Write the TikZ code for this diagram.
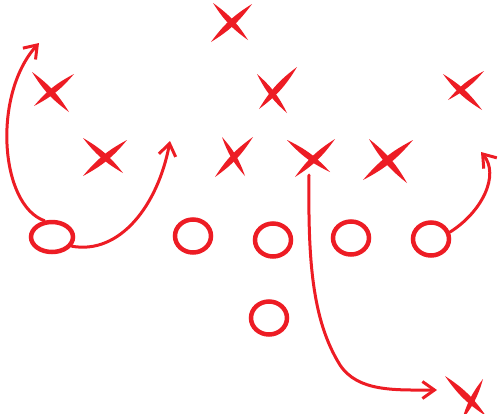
\documentclass[tikz,border=0pt]{standalone}
\usetikzlibrary{arrows.meta,shapes.geometric}
\definecolor{ink}{RGB}{237,28,36}
\begin{document}
\begin{tikzpicture}[x=1pt,y=-1pt,
  brush/.style={fill=ink},
  player/.style={ellipse,draw=ink,line width=4.5pt,inner sep=0pt,minimum width=36pt,minimum height=33pt},
  route/.style={draw=ink,line width=3pt,line cap=round,-{Straight Barb[length=12pt,width=17pt]}}]
\useasboundingbox (0,0) rectangle (500,413);
% defenders (X)
\coordinate (x1) at (231,21);
\coordinate (x2) at (52,90);
\coordinate (x3) at (277,90);
\coordinate (x4) at (463,90);
\coordinate (x5) at (105,157);
\coordinate (x6) at (311,157);
\coordinate (x7) at (234,157);
\coordinate (x8) at (389,160);
\coordinate (x9) at (465,396);
\coordinate (x6s) at (309,175);
\fill[brush] (213,3) to[bend left=11] (248,40) to[bend left=11] (213,3);
\fill[brush] (252,4) to[bend left=11] (211,42) to[bend left=11] (252,4);
\fill[brush] (32,72) to[bend left=11] (69,112) to[bend left=11] (32,72);
\fill[brush] (74,74) to[bend left=11] (34,106) to[bend left=11] (74,74);
\fill[brush] (257,74) to[bend left=11] (287,113) to[bend left=11] (257,74);
\fill[brush] (297,67) to[bend left=11] (259,109) to[bend left=11] (297,67);
\fill[brush] (443,74) to[bend left=11] (482,110) to[bend left=11] (443,74);
\fill[brush] (484,71) to[bend left=11] (448,100) to[bend left=11] (484,71);
\fill[brush] (83,138) to[bend left=11] (123,173) to[bend left=11] (83,138);
\fill[brush] (127,140) to[bend left=11] (83,176) to[bend left=11] (127,140);
\fill[brush] (222,137) to[bend left=11] (245,176) to[bend left=11] (222,137);
\fill[brush] (253,137) to[bend left=11] (215,177) to[bend left=11] (253,137);
\fill[brush] (287,140) to[bend left=11] (330,172) to[bend left=11] (287,140);
\fill[brush] (335,139) to[bend left=11] (295,177) to[bend left=11] (335,139);
\fill[brush] (369,139) to[bend left=11] (407,183) to[bend left=11] (369,139);
\fill[brush] (413,140) to[bend left=11] (363,180) to[bend left=11] (413,140);
\fill[brush] (445,376) to[bend left=11] (486,416) to[bend left=11] (445,376);
\fill[brush] (483,379) to[bend left=11] (462,420) to[bend left=11] (483,379);
% offense (O)
\node[player,minimum width=42pt,minimum height=30pt] (c1) at (52,237) {};
\node[player] (c2) at (193,236) {};
\node[player] (c3) at (273,240) {};
\node[player] (c4) at (351,238) {};
\node[player] (c5) at (431,239) {};
\node[player] (c6) at (269,318) {};
% routes
\draw[route] (c1.115) .. controls (0,205) and (-8,95) .. (39,43);
\draw[route] (c1.-25) .. controls (120,255) and (158,205) .. (170,141);
\draw[route] (c5.20) .. controls (482,212) and (500,175) .. (481,152);
\draw[route] (x6s) .. controls (308,260) and (312,320) .. (340,365)
  .. controls (358,392) and (395,390) .. (437,390);
\end{tikzpicture}
\end{document}
